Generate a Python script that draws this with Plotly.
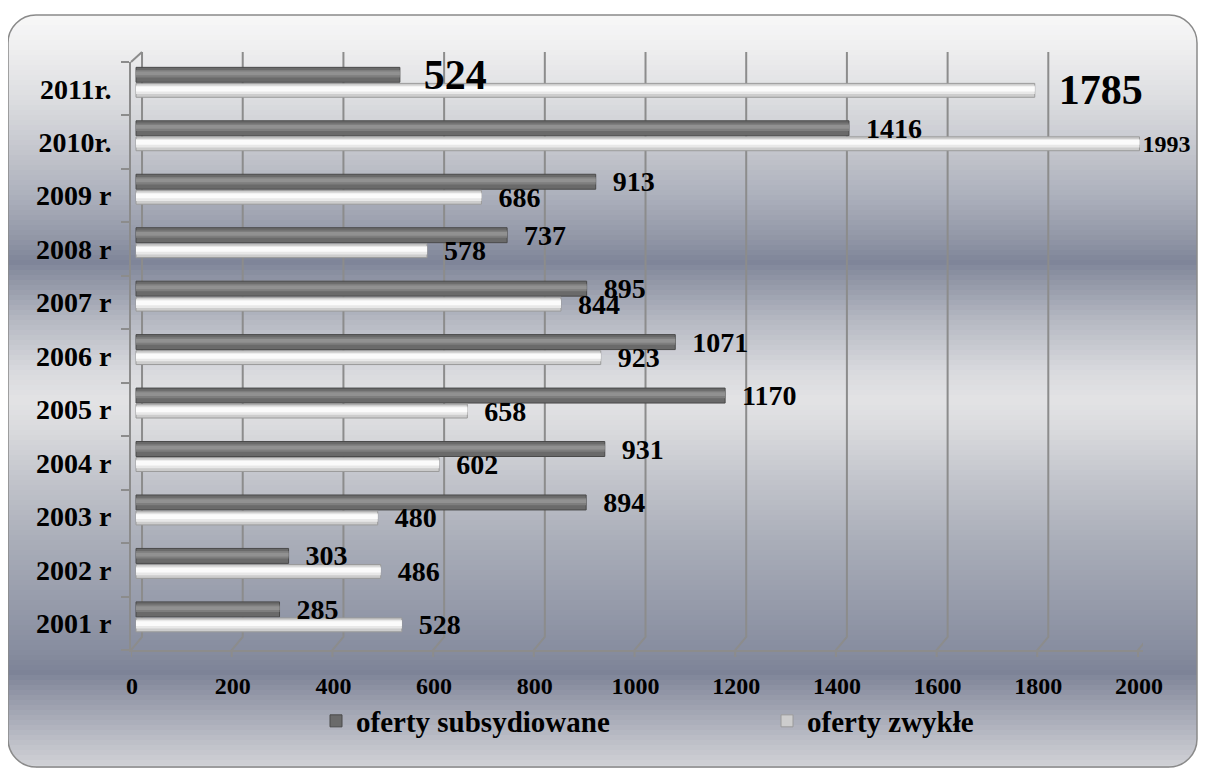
import plotly.graph_objects as go
import numpy as np

# ---------------- data ----------------
years = ["2001 r", "2002 r", "2003 r", "2004 r", "2005 r", "2006 r",
         "2007 r", "2008 r", "2009 r", "2010r.", "2011r."]
subsidized = [285, 303, 894, 931, 1170, 1071, 895, 737, 913, 1416, 524]
regular = [528, 486, 480, 602, 658, 923, 844, 578, 686, 1993, 1785]
x_ticks = [0, 200, 400, 600, 800, 1000, 1200, 1400, 1600, 1800, 2000]
series_names = ["oferty subsydiowane", "oferty zwykłe"]
sub_label_sizes = [28] * 10 + [42]
reg_label_sizes = [28] * 9 + [24, 42]
sub_label_gap = [2] * 11
reg_label_gap = [2] * 9 + [0, 2]

OFF = 8  # page body margin
W, H = 1206 - 2 * OFF, 776 - 2 * OFF   # fits the window without scrollbars
FONT = "Liberation Serif"


def px(x):
    return (x - OFF) / W


def py(y):
    return 1 - (y - OFF) / H


fig = go.Figure()

# ---- subsidized (dark cylinders) ----
fig.add_trace(go.Bar(
    y=years, x=subsidized, orientation="h", name=series_names[0], legend="legend",
    offset=0.12, width=0.28,
    marker=dict(color="#6a6a6a", line=dict(color="#4a4a4a", width=1)),
    hoverinfo="x+y",
))
fig.add_trace(go.Bar(y=years, x=subsidized, orientation="h", offset=0.21, width=0.14,
                     marker=dict(color="#7e7e7e", line=dict(width=0)), showlegend=False,
                     hoverinfo="skip"))
fig.add_trace(go.Bar(y=years, x=subsidized, orientation="h", offset=0.25, width=0.07,
                     marker=dict(color="#919191", line=dict(width=0)), showlegend=False,
                     hoverinfo="skip"))

# ---- regular (white cylinders) ----
fig.add_trace(go.Bar(
    y=years, x=regular, orientation="h", name=series_names[1], legend="legend2",
    offset=-0.16, width=0.26,
    marker=dict(color="#cdcdcd", line=dict(color="#9a9a9a", width=1)),
    hoverinfo="x+y",
))
fig.add_trace(go.Bar(y=years, x=regular, orientation="h", offset=-0.10, width=0.16,
                     marker=dict(color="#e8e8e8", line=dict(width=0)), showlegend=False,
                     hoverinfo="skip"))
fig.add_trace(go.Bar(y=years, x=regular, orientation="h", offset=-0.05, width=0.09,
                     marker=dict(color="#fbfbfb", line=dict(width=0)), showlegend=False,
                     hoverinfo="skip"))

# ---- value labels on top of everything ----
for vals, off, wid, sizes, gaps in ((subsidized, 0.12, 0.28, sub_label_sizes, sub_label_gap),
                                    (regular, -0.16, 0.26, reg_label_sizes, reg_label_gap)):
    fig.add_trace(go.Bar(
        y=years, x=vals, orientation="h", offset=off, width=wid,
        marker=dict(color="rgba(0,0,0,0)", line=dict(width=0)),
        text=["\u00a0" * g + str(v) for v, g in zip(vals, gaps)],
        textposition="outside", constraintext="none", textangle=0, cliponaxis=False,
        textfont=dict(family=FONT, size=sizes, color="black", weight="bold"),
        showlegend=False, hoverinfo="skip",
    ))

# ---------------- background gradient ----------------
stops_y = [15, 50, 100, 150, 200, 240, 262, 285, 320, 370, 400, 430, 480, 540, 600, 650, 672, 700, 740, 776]
stops_c = ["#f8f8f8", "#eeeeef", "#dcdde0", "#c4c6cd", "#aaaeba", "#9095a5", "#7f8599",
           "#959aa9", "#b5b8c2", "#d8d9dd", "#e3e3e5", "#d9dadd", "#c2c4cb", "#aaaeb9",
           "#979cab", "#878d9f", "#7d8397", "#989cab", "#bcbec7", "#d8d9dc"]


def hex2rgb(h):
    return np.array([int(h[i:i + 2], 16) for i in (1, 3, 5)], dtype=float)


L, R, T, B, r = 8, 1197, 15, 767, 28
k = 0.5523

rgbs = np.array([hex2rgb(c) for c in stops_c])
shapes = []
step = 5
for y0 in range(T, B + 5, step):
    ym = y0 + step / 2
    col = [np.interp(ym, stops_y, rgbs[:, k_]) for k_ in range(3)]
    shapes.append(dict(type="rect", xref="paper", yref="paper", layer="below",
                       x0=px(L), x1=px(R), y0=py(y0), y1=py(min(y0 + step + 1, B)),
                       fillcolor="rgb(%d,%d,%d)" % tuple(int(round(c)) for c in col),
                       line=dict(width=0)))


def P(x, y):
    return "%.6f,%.6f" % (px(x), py(y))


# white masks for rounded corners
masks = [
    f"M {P(L-2,T-2)} L {P(L+r,T-2)} L {P(L+r,T)} C {P(L+r-r*k,T)} {P(L,T+r-r*k)} {P(L,T+r)} L {P(L-2,T+r)} Z",
    f"M {P(R+2,T-2)} L {P(R-r,T-2)} L {P(R-r,T)} C {P(R-r+r*k,T)} {P(R,T+r-r*k)} {P(R,T+r)} L {P(R+2,T+r)} Z",
    f"M {P(L-2,B+2)} L {P(L+r,B+2)} L {P(L+r,B)} C {P(L+r-r*k,B)} {P(L,B-r+r*k)} {P(L,B-r)} L {P(L-2,B-r)} Z",
    f"M {P(R+2,B+2)} L {P(R-r,B+2)} L {P(R-r,B)} C {P(R-r+r*k,B)} {P(R,B-r+r*k)} {P(R,B-r)} L {P(R+2,B-r)} Z",
]
for m in masks:
    shapes.append(dict(type="path", xref="paper", yref="paper", layer="below", path=m,
                       fillcolor="white", line=dict(width=0)))

border = (f"M {P(L+r,T)} L {P(R-r,T)} C {P(R-r+r*k,T)} {P(R,T+r-r*k)} {P(R,T+r)} "
          f"L {P(R,B-r)} C {P(R,B-r+r*k)} {P(R-r+r*k,B)} {P(R-r,B)} "
          f"L {P(L+r,B)} C {P(L+r-r*k,B)} {P(L,B-r+r*k)} {P(L,B-r)} "
          f"L {P(L,T+r)} C {P(L,T+r-r*k)} {P(L+r-r*k,T)} {P(L+r,T)} Z")
shapes.append(dict(type="path", xref="paper", yref="paper", layer="below", path=border,
                   line=dict(color="#8a8a8a", width=1.5)))

# 3D-style gridlines (back wall + floor diagonal + floor tick)
GRID = "#8c8c8c"
for v in x_ticks:
    shapes.append(dict(type="path", xref="x", xsizemode="pixel", xanchor=v, yref="paper",
                       layer="below",
                       path=f"M -5,{py(657):.6f} L -5,{py(650):.6f} L 6,{py(637):.6f} L 6,{py(52):.6f}",
                       line=dict(color=GRID, width=2)))
# top-left corner of the wall
shapes.append(dict(type="line", xref="paper", yref="paper", layer="below",
                   x0=px(131), y0=py(62), x1=px(142), y1=py(52),
                   line=dict(color=GRID, width=2)))

legend_common = dict(orientation="h", xanchor="left", y=py(721), yanchor="middle",
                     font=dict(family=FONT, size=29, color="black", weight="bold"),
                     bgcolor="rgba(0,0,0,0)")

fig.update_layout(
    width=W, height=H,
    margin=dict(l=0, r=0, t=0, b=0, autoexpand=False),
    paper_bgcolor="white", plot_bgcolor="rgba(0,0,0,0)",
    barmode="overlay",
    shapes=shapes,
    showlegend=True,
    legend=dict(x=px(316), **legend_common),
    legend2=dict(x=px(767), **legend_common),
    xaxis=dict(domain=[px(131), px(1143)], range=[-10, 2000], automargin=False,
               tickvals=x_ticks, ticktext=[str(v) for v in x_ticks],
               showgrid=False, zeroline=False, ticks="",
               showline=True, linecolor=GRID, linewidth=2,
               ticklabelstandoff=13, ticklabelshift=-4,
               tickfont=dict(family=FONT, size=24, color="black", weight="bold")),
    yaxis=dict(domain=[py(650), py(62)], type="category", automargin=False,
               categoryorder="array", categoryarray=years, range=[-0.5, 10.5],
               showgrid=False, zeroline=False,
               showline=True, linecolor=GRID, linewidth=2,
               ticks="outside", tickson="boundaries", ticklen=8, tickcolor=GRID, tickwidth=2,
               ticklabelstandoff=12,
               tickfont=dict(family=FONT, size=28, color="black", weight="bold")),
)

fig.write_html("out.html")
